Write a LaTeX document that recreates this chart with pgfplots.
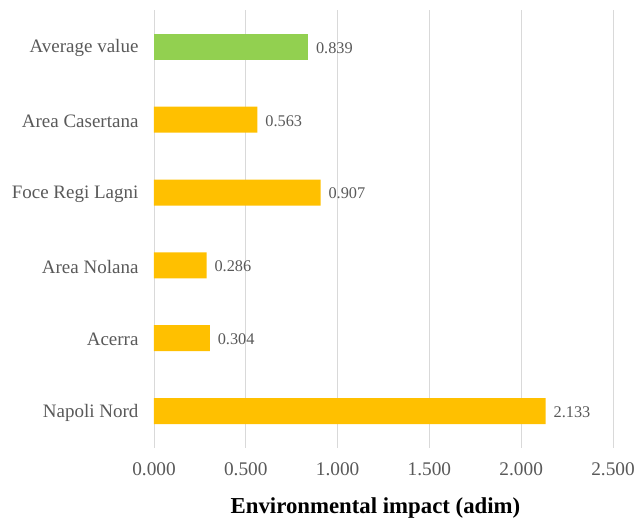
\documentclass[border=0pt]{standalone}
\usepackage{fontspec}
\setmainfont{Liberation Serif}
\usepackage{pgfplots}
\pgfplotsset{compat=1.18}
\definecolor{barYellow}{HTML}{FFC000}
\definecolor{barGreen}{HTML}{92D050}
\definecolor{labelGray}{HTML}{595959}
\definecolor{gridGray}{HTML}{D9D9D9}

\begin{document}
\begin{tikzpicture}
\begin{axis}[
  scale only axis, width=459pt, height=437pt,
  xbar, bar width=26pt, bar shift=0pt,
  xmin=0, xmax=2.5, ymin=-0.5, ymax=5.5,
  xtick={0,0.5,...,2.5}, ytick={0,...,5},
  yticklabels={Napoli Nord, Acerra, Area Nolana, Foce Regi Lagni, Area Casertana, Average value},
  axis line style={draw=none},
  major tick length=0pt,
  xmajorgrids, ymajorgrids=false,
  grid style={gridGray, line width=0.8pt},
  xticklabel style={font=\fontsize{19.3}{23}\selectfont, text=labelGray, anchor=base, yshift=-28pt,
    /pgf/number format/fixed, /pgf/number format/fixed zerofill,
    /pgf/number format/precision=3, /pgf/number format/assume math mode=true},
  yticklabel style={font=\fontsize{19}{23}\selectfont, text=labelGray, anchor=east, xshift=-12pt, yshift=-1.5pt},
  scaled x ticks=false,
  xlabel={Environmental impact (adim)},
  xlabel style={font=\fontsize{22.8}{26}\selectfont\bfseries, text=black,
    at={(axis description cs:0.5,0)}, anchor=base, yshift=-66pt, xshift=-8pt},
  nodes near coords,
  nodes near coords style={font=\fontsize{16.3}{19}\selectfont, text=labelGray, anchor=west, xshift=4.5pt, yshift=-1pt,
    /pgf/number format/fixed, /pgf/number format/fixed zerofill,
    /pgf/number format/precision=3, /pgf/number format/assume math mode=true},
]
\addplot[fill=barYellow, draw=none] coordinates {(2.133,0) (0.304,1) (0.286,2) (0.907,3) (0.563,4)};
\addplot[fill=barGreen, draw=none] coordinates {(0.839,5)};
\end{axis}
\path (-154pt,-77pt) rectangle (486pt,447.5pt);
\end{tikzpicture}
\end{document}
